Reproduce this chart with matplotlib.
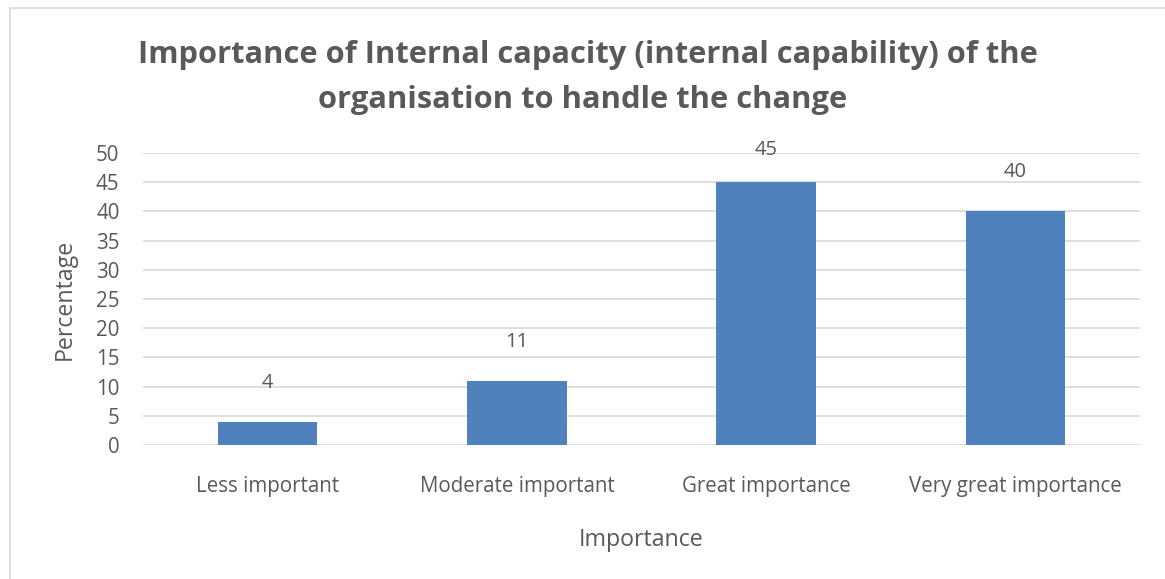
import matplotlib.pyplot as plt
from matplotlib.patches import Rectangle

categories = ["Less important", "Moderate important", "Great importance", "Very great importance"]
values = [4, 11, 45, 40]
yticks = [0, 5, 10, 15, 20, 25, 30, 35, 40, 45, 50]

W, H = 1165, 579
gray = "#595959"
plt.rcParams["font.family"] = ["Open Sans", "DejaVu Sans"]

fig = plt.figure(figsize=(W / 100, H / 100), dpi=100)
ax = fig.add_axes([143 / W, 1 - 445 / H, (1140 - 143) / W, (445 - 153) / H])

ax.bar(range(len(values)), values, width=0.4, color="#4f81bd", zorder=3)
# labels sit above the bars, kept inside the plot area like Excel does
for i, v in enumerate(values):
    ax.text(i, min(v + 6.7, 50.5), str(v), ha="center", va="center",
            fontsize=14.5, color=gray)

ax.set_xlim(-0.5, len(values) - 0.5)
ax.set_ylim(0, 50)
ax.set_yticks(yticks)
ax.set_xticks(range(len(values)))
ax.set_xticklabels(categories)
ax.tick_params(axis="both", length=0, colors=gray, labelsize=14.8)
ax.tick_params(axis="x", pad=22)
ax.tick_params(axis="y", pad=17)
ax.grid(axis="y", color="#d9d9d9", linewidth=1.2, zorder=0)
for s in ax.spines.values():
    s.set_visible(False)

ax.set_xlabel("Importance", fontsize=16.7, color=gray, labelpad=23)
ax.set_ylabel("Percentage", fontsize=16.7, color=gray, labelpad=14)

fig.text(0.505, 1 - 55 / H, "Importance of Internal capacity (internal capability) of the",
         ha="center", va="center", fontsize=22.2, fontweight="bold", color=gray)
fig.text(0.5, 1 - 100 / H, "organisation to handle the change",
         ha="center", va="center", fontsize=22.2, fontweight="bold", color=gray)

fig.patches.append(Rectangle((10 / W, -0.05), 1.2, 1.05 - 8 / H,
                             transform=fig.transFigure, fill=False,
                             edgecolor="#d9d9d9", linewidth=1.2))

fig.savefig("out.png", dpi=100)
